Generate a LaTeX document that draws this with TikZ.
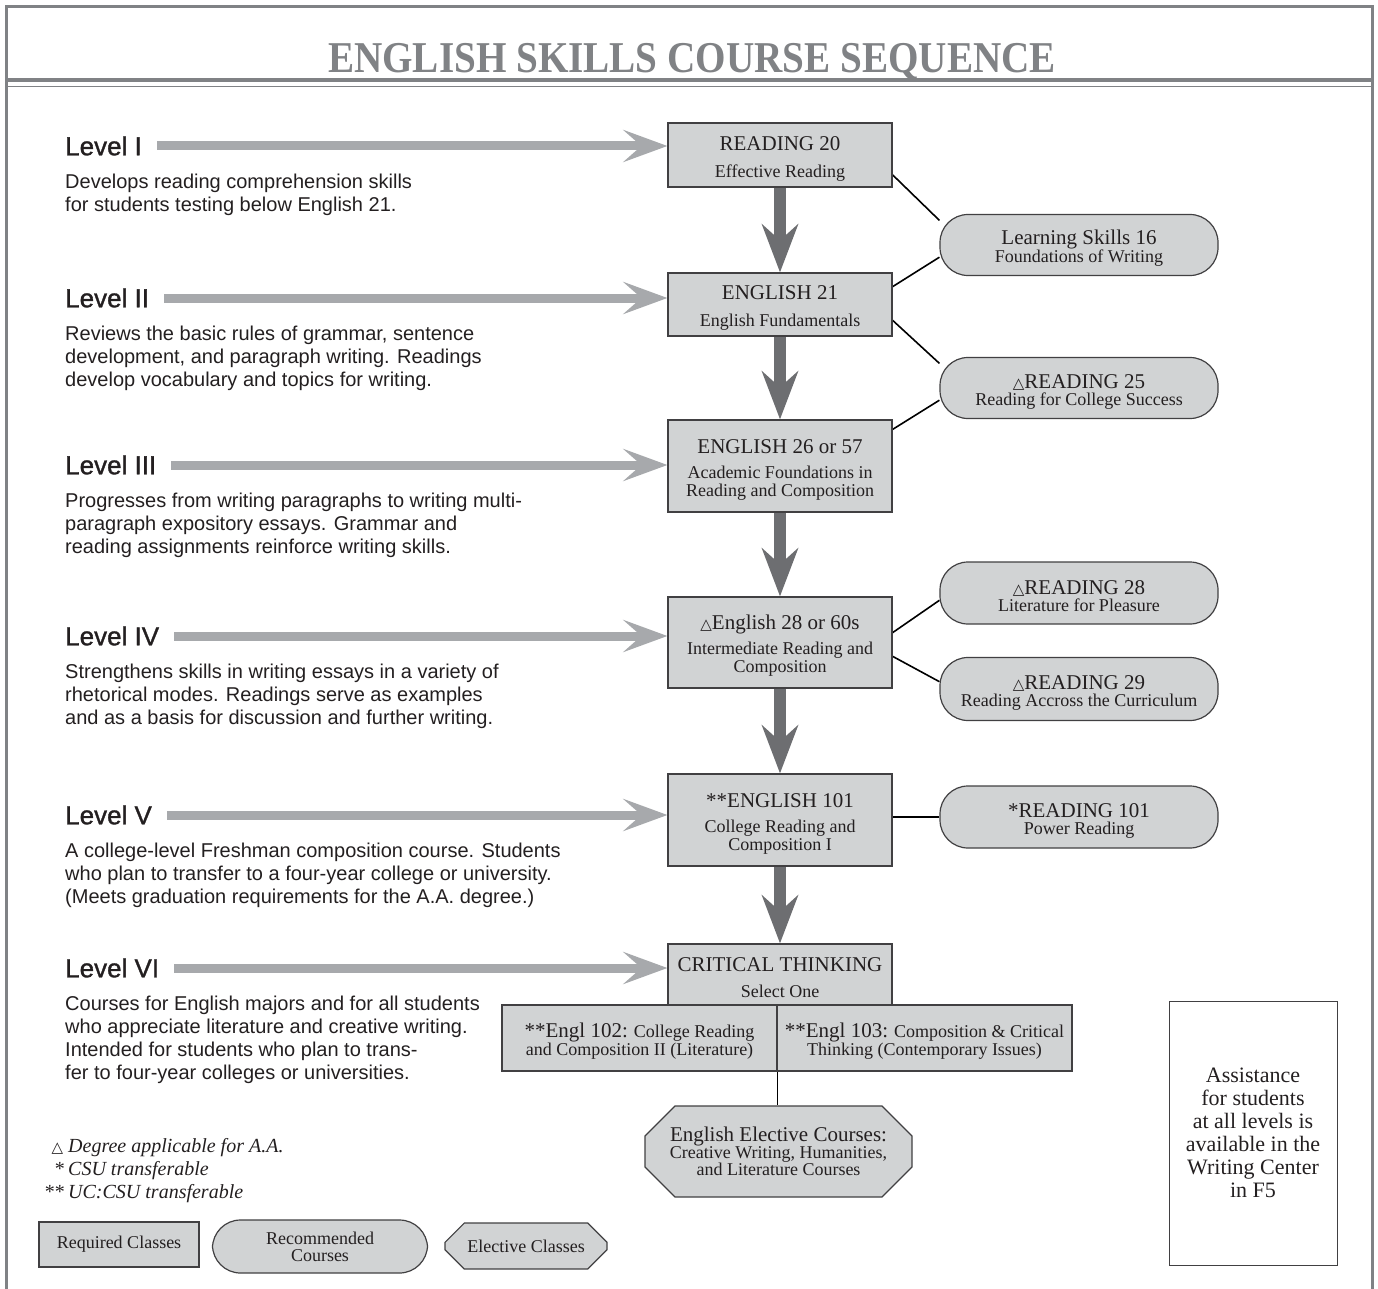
\documentclass[tikz,border=0pt]{standalone}
\usepackage{fontspec}
\setmainfont{Liberation Serif}
\setsansfont{Liberation Sans}
\newfontfamily\symfnt{DejaVu Sans}
\newfontfamily\headfnt[FakeBold=1.2]{Liberation Sans}
\usetikzlibrary{arrows.meta,positioning,shapes.misc,backgrounds}

\definecolor{boxfill}{RGB}{209,211,212}
\definecolor{boxline}{RGB}{65,64,66}
\definecolor{lvlgray}{RGB}{167,169,172}
\definecolor{flowgray}{RGB}{109,110,113}
\definecolor{framegray}{RGB}{128,130,133}
\definecolor{txt}{RGB}{35,31,32}

\newcommand{\crstitle}{\fontsize{21}{22}\selectfont\rule{0pt}{21pt}}
\newcommand{\electitle}{\fontsize{21}{22}\selectfont}
\newcommand{\degsym}{{\symfnt\fontsize{15}{15}\selectfont △}}

\begin{document}
\begin{tikzpicture}[x=1pt, y=-1pt]
  \tikzset{
    reqbox/.style={draw=boxline, fill=boxfill, line width=1.2pt, minimum width=224pt,
      inner sep=2pt, align=center, text=txt, font=\fontsize{18}{18}\selectfont},
    recbox/.style={draw=boxline, fill=boxfill, line width=1.2pt, rounded corners=28pt,
      minimum width=278pt, minimum height=61pt, inner sep=2pt, align=center, text=txt,
      font=\fontsize{18}{17}\selectfont},
    elecbox/.style={chamfered rectangle, chamfered rectangle xsep=16pt, chamfered rectangle ysep=14pt,
      draw=boxline, fill=boxfill, line width=1.2pt, inner sep=2pt, align=center, text=txt,
      font=\fontsize{18}{17}\selectfont},
    lvlhead/.style={anchor=west, inner sep=0pt, text=txt, font=\headfnt\fontsize{26}{28}\selectfont},
    lvldesc/.style={inner sep=0pt, align=left, text=txt, font=\sffamily\fontsize{20}{23}\selectfont},
    lvlarrow/.style={draw=lvlgray, line width=9pt, shorten <=15pt,
      -{Stealth[length=44pt, width=32pt, inset=18pt, fill=lvlgray]}},
    flowarrow/.style={draw=flowgray, line width=12pt,
      -{Stealth[length=48pt, width=36pt, inset=16pt, fill=flowgray]}},
    link/.style={draw=black, line width=1.6pt},
    note/.style={anchor=base west, inner sep=0pt, text=txt, font=\fontsize{20}{23}\selectfont},
  }
  \useasboundingbox (0,0) rectangle (1378,1289);

  % frame and title band
  \draw[framegray, line width=3pt] (6,1289) -- (6,7) -- (1372,7) -- (1372,1289);
  \draw[framegray, line width=4pt] (6,80) -- (1372,80);
  \draw[framegray, line width=1.5pt] (6,86.5) -- (1372,86.5);
  \node[text=framegray, font=\bfseries\fontsize{44}{44}\selectfont, xscale=0.89] (title) at (692,62)
    {ENGLISH SKILLS COURSE SEQUENCE};

  % required classes
  \node[reqbox, minimum height=64pt] (read20) at (780,155)
    {{\crstitle READING 20}\\[9pt]Effective Reading};
  \node[reqbox, minimum height=63pt] (eng21) at (780,304.5)
    {{\crstitle ENGLISH 21}\\[9pt]English Fundamentals};
  \node[reqbox, minimum height=92pt] (eng26) at (780,466)
    {{\crstitle ENGLISH 26 or 57}\\[7pt]Academic Foundations in\\Reading and Composition};
  \node[reqbox, minimum height=91pt] (eng28) at (780,642.5)
    {{\crstitle\degsym English 28 or 60s}\\[7pt]Intermediate Reading and\\Composition};
  \node[reqbox, minimum height=92pt] (eng101) at (780,820)
    {{\crstitle **ENGLISH 101}\\[7pt]College Reading and\\Composition I};
  \node[reqbox, minimum height=61pt] (crit) at (780,974.5)
    {{\crstitle CRITICAL THINKING}\\[8pt]Select One};
  \node[reqbox, minimum width=275pt, minimum height=66pt, font=\fontsize{18}{17}\selectfont] (engl102) at (639.5,1038)
    {{\crstitle **Engl 102:} College Reading\\and Composition II (Literature)};
  \node[reqbox, minimum width=295pt, minimum height=66pt, font=\fontsize{18}{17}\selectfont] (engl103) at (924.5,1038)
    {{\crstitle **Engl 103:} Composition \& Critical\\Thinking (Contemporary Issues)};

  % recommended courses
  \node[recbox] (ls16) at (1079,245) {{\crstitle Learning Skills 16}\\Foundations of Writing};
  \node[recbox] (rd25) at (1079,388) {{\crstitle\degsym READING 25}\\Reading for College Success};
  \node[recbox, minimum height=62pt] (rd28) at (1079,593) {{\crstitle\degsym READING 28}\\Literature for Pleasure};
  \node[recbox, minimum height=63pt] (rd29) at (1079,689) {{\crstitle\degsym READING 29}\\Reading Accross the Curriculum};
  \node[recbox, minimum height=62pt] (rd101) at (1079,817) {{\crstitle *READING 101}\\Power Reading};

  % electives
  \node[elecbox, minimum width=267pt, minimum height=91pt] (elective) at (778.5,1151.5)
    {{\electitle English Elective Courses:}\\Creative Writing, Humanities,\\and Literature Courses};

  % levels
  \node[lvlhead] (lvl1) at (65,146) {Level I};
  \node[lvldesc, below=18pt of lvl1.south west, anchor=north west] (desc1)
    {Develops reading comprehension skills\\for students testing below English 21.};
  \node[lvlhead] (lvl2) at (65,298) {Level II};
  \node[lvldesc, below=18pt of lvl2.south west, anchor=north west] (desc2)
    {Reviews the basic rules of grammar, sentence\\development, and paragraph writing. Readings\\develop vocabulary and topics for writing.};
  \node[lvlhead] (lvl3) at (65,465) {Level III};
  \node[lvldesc, below=18pt of lvl3.south west, anchor=north west] (desc3)
    {Progresses from writing paragraphs to writing multi-\\paragraph expository essays. Grammar and\\reading assignments reinforce writing skills.};
  \node[lvlhead] (lvl4) at (65,636) {Level IV};
  \node[lvldesc, below=18pt of lvl4.south west, anchor=north west] (desc4)
    {Strengthens skills in writing essays in a variety of\\rhetorical modes. Readings serve as examples\\and as a basis for discussion and further writing.};
  \node[lvlhead] (lvl5) at (65,815) {Level V};
  \node[lvldesc, below=18pt of lvl5.south west, anchor=north west] (desc5)
    {A college-level Freshman composition course. Students\\who plan to transfer to a four-year college or university.\\(Meets graduation requirements for the A.A. degree.)};
  \node[lvlhead] (lvl6) at (65,968) {Level VI};
  \node[lvldesc, below=18pt of lvl6.south west, anchor=north west] (desc6)
    {Courses for English majors and for all students\\who appreciate literature and creative writing.\\Intended for students who plan to trans-\\fer to four-year colleges or universities.};

  % notes and legend
  \node[note] (note1) at (68,1152) {\llap{\degsym\ }\textit{Degree applicable for A.A.}};
  \node[note] (note2) at (68,1175) {\llap{*\,}\textit{CSU transferable}};
  \node[note] (note3) at (68,1198) {\llap{**\,}\textit{UC:CSU transferable}};
  \node[reqbox, minimum width=160pt, minimum height=45pt] (keyreq) at (119,1244.5) {Required Classes};
  \node[recbox, minimum width=215pt, minimum height=53pt] (keyrec) at (320,1246.5) {Recommended\\Courses};
  \node[elecbox, chamfered rectangle xsep=11pt, chamfered rectangle ysep=11pt,
    minimum width=162pt, minimum height=46pt] (keyelec) at (526,1246) {Elective Classes};

  % writing center
  \node[draw=boxline, line width=1pt, minimum width=168pt, minimum height=264pt, align=center,
    text=txt, font=\fontsize{22}{23}\selectfont] (help) at (1253,1133)
    {Assistance\\for students\\at all levels is\\available in the\\Writing Center\\in F5};

  % connectors
  \begin{scope}[on background layer]
    \foreach \l/\c in {lvl1/read20, lvl2/eng21, lvl3/eng26, lvl4/eng28, lvl5/eng101, lvl6/crit}
      \draw[lvlarrow] (\l.east) -- (\l.east -| \c.west);
    \foreach \a/\b in {read20/eng21, eng21/eng26, eng26/eng28, eng28/eng101, eng101/crit}
      \draw[flowarrow] (\a.south) -- (\b.north);
    \draw[link] (read20.-10.6) -- (ls16.170);
    \draw[link] (ls16.185) -- (eng21.9.4);
    \draw[link] (eng21.-8) -- (rd25.170);
    \draw[link] (rd25.185) -- (eng26.18);
    \draw[link] (eng28.5.4) -- (rd28.183);
    \draw[link] (eng28.-7.4) -- (rd29.177);
    \draw[link] (eng101.east |- rd101.west) -- (rd101.west);
    \draw[link] (engl102.south east) -- (engl102.south east |- elective.north);
  \end{scope}
\end{tikzpicture}
\end{document}
